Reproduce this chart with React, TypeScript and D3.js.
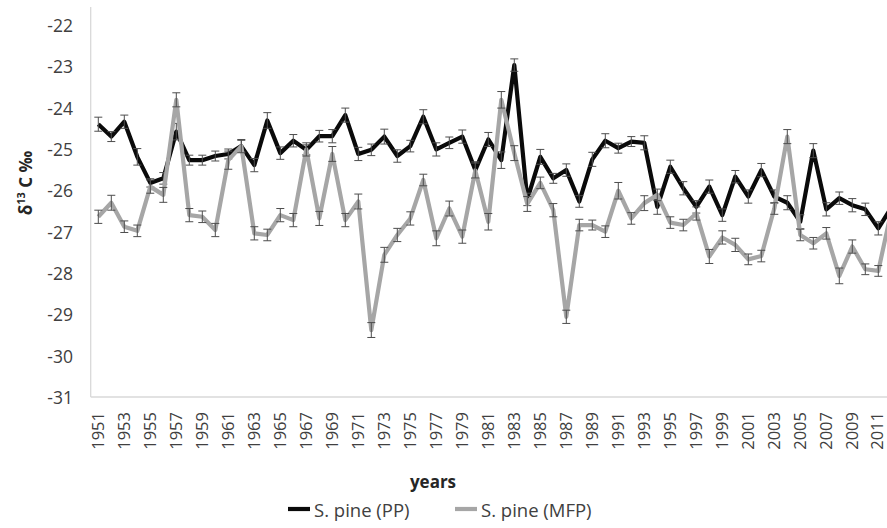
import * as d3 from "d3";

const years = d3.range(1951, 2013);

// S. pine (PP) - black series
const ppValues = [
  -24.4, -24.7, -24.34, -25.19, -25.82, -25.71, -24.58, -25.27, -25.27, -25.17,
  -25.12, -24.93, -25.39, -24.31, -25.1, -24.8, -25.02, -24.69, -24.69, -24.18,
  -25.12, -25.02, -24.7, -25.17, -24.93, -24.22, -25.01, -24.85, -24.7, -25.51,
  -24.77, -25.27, -22.97, -26.22, -25.19, -25.71, -25.51, -26.27, -25.25, -24.8,
  -24.98, -24.82, -24.85, -26.4, -25.43, -25.95, -26.4, -25.91, -26.6, -25.67,
  -26.15, -25.51, -26.15, -26.3, -26.76, -25.04, -26.46, -26.19, -26.36, -26.46,
  -26.92, -26.42,
];
const ppErr = [
  0.17, 0.12, 0.16, 0.2, 0.1, 0.14, 0.2, 0.12, 0.12, 0.12,
  0.12, 0.14, 0.16, 0.19, 0.15, 0.15, 0.12, 0.14, 0.16, 0.17,
  0.16, 0.14, 0.18, 0.15, 0.14, 0.17, 0.16, 0.14, 0.16, 0.2,
  0.17, 0.2, 0.15, 0.15, 0.18, 0.12, 0.15, 0.14, 0.17, 0.17,
  0.12, 0.12, 0.17, 0.18, 0.16, 0.16, 0.15, 0.16, 0.15, 0.15,
  0.16, 0.16, 0.16, 0.17, 0.17, 0.17, 0.16, 0.15, 0.16, 0.15,
  0.16, 0.16,
];

// S. pine (MFP) - grey series
const mfpValues = [
  -26.64, -26.3, -26.88, -26.98, -25.91, -26.11, -23.81, -26.6, -26.64, -26.96,
  -25.27, -24.93, -27.04, -27.08, -26.6, -26.72, -25.01, -26.68, -25.12, -26.72,
  -26.27, -29.38, -27.56, -27.08, -26.68, -25.75, -27.16, -26.44, -27.12, -25.52,
  -26.76, -23.81, -25.1, -26.33, -25.82, -26.48, -29.06, -26.84, -26.84, -27.0,
  -26.01, -26.68, -26.31, -26.11, -26.78, -26.84, -26.56, -27.6, -27.14, -27.32,
  -27.67, -27.59, -26.44, -24.7, -27.08, -27.28, -27.04, -28.07, -27.36, -27.91,
  -27.95, -26.5,
];
const mfpErr = [
  0.16, 0.18, 0.14, 0.14, 0.16, 0.18, 0.17, 0.16, 0.14, 0.16,
  0.22, 0.16, 0.16, 0.14, 0.16, 0.16, 0.16, 0.17, 0.18, 0.16,
  0.18, 0.18, 0.18, 0.16, 0.16, 0.14, 0.18, 0.18, 0.16, 0.18,
  0.2, 0.2, 0.18, 0.18, 0.14, 0.16, 0.16, 0.14, 0.12, 0.14,
  0.2, 0.14, 0.18, 0.14, 0.14, 0.14, 0.16, 0.17, 0.16, 0.16,
  0.13, 0.14, 0.14, 0.17, 0.14, 0.14, 0.14, 0.19, 0.16, 0.13,
  0.13, 0.16,
];

const yTicks = d3.range(-31, -21, 1);
const xTickYears = years.filter((yr) => yr % 2 === 1);

const series = [
  { name: "S. pine (PP)", values: ppValues, err: ppErr, color: "#0a0a0a" },
  { name: "S. pine (MFP)", values: mfpValues, err: mfpErr, color: "#a6a6a6" },
];

const W = 887;
const H = 528;
const plotLeft = 91.8;
const axisX = 90.7;
const axisY = 397;

export default function App() {
  const x = d3
    .scaleBand<number>()
    .domain(years)
    .range([plotLeft, plotLeft + years.length * 13]);
  const cx = (yr: number) => (x(yr) as number) + x.bandwidth() / 2;

  const y = d3.scaleLinear().domain([-31, -22]).range([axisY, 25]);

  const line = d3
    .line<number>()
    .x((_, i) => cx(years[i]))
    .y((d) => y(d));

  const font = "'Open Sans', sans-serif";

  return (
    <svg
      width={W}
      height={H}
      style={{ position: "absolute", left: 0, top: 0, background: "#fff" }}
      fontFamily={font}
    >
      <rect width={W} height={H} fill="#fff" />

      {/* axes */}
      <line x1={axisX} x2={axisX} y1={7} y2={axisY} stroke="#d9d9d9" strokeWidth={1.3} />
      <line x1={axisX} x2={W + 20} y1={axisY} y2={axisY} stroke="#d9d9d9" strokeWidth={1.3} />

      {yTicks.map((t) => (
        <text
          key={t}
          x={73}
          y={y(t)}
          textAnchor="end"
          dominantBaseline="central"
          fontSize={17.5}
          fill="#404040"
        >
          {t}
        </text>
      ))}

      {xTickYears.map((yr) => (
        <text
          key={yr}
          transform={`translate(${Math.min(cx(yr) - 0.5, W - 11)},${412}) rotate(-90)`}
          textAnchor="end"
          dominantBaseline="central"
          fontSize={16.5}
          fill="#404040"
        >
          {yr}
        </text>
      ))}

      {/* series: lines + error bars */}
      {series.map((s) => (
        <g key={s.name}>
          <path
            d={line(s.values) as string}
            fill="none"
            stroke={s.color}
            strokeWidth={4.2}
            strokeLinejoin="round"
          />
          {s.values.map((v, i) => {
            const px = cx(years[i]);
            const top = y(v + s.err[i]);
            const bot = y(v - s.err[i]);
            return (
              <g key={i} stroke="#4d4d4d" strokeWidth={1}>
                <line x1={px} x2={px} y1={top} y2={bot} />
                <line x1={px - 4} x2={px + 4} y1={top} y2={top} />
                <line x1={px - 4} x2={px + 4} y1={bot} y2={bot} />
              </g>
            );
          })}
        </g>
      ))}

      {/* axis titles */}
      <text
        x={433}
        y={481}
        textAnchor="middle"
        dominantBaseline="central"
        fontSize={17}
        fontWeight="bold"
        fill="#262626"
      >
        years
      </text>
      <text
        transform="translate(32,183) rotate(-90)"
        textAnchor="middle"
        fontSize={17}
        fontWeight="bold"
        fill="#262626"
      >
        δ<tspan fontSize={11} dy={-7}>13</tspan>
        <tspan dy={7}> C ‰</tspan>
      </text>

      {/* legend */}
      {series.map((s, i) => {
        const lx = i === 0 ? 288 : 455;
        return (
          <g key={s.name}>
            <line x1={lx} x2={lx + 22} y1={509} y2={509} stroke={s.color} strokeWidth={4.2} />
            <text
              x={lx + 26}
              y={509}
              dominantBaseline="central"
              fontSize={18.5}
              fill="#404040"
            >
              {s.name}
            </text>
          </g>
        );
      })}
    </svg>
  );
}
